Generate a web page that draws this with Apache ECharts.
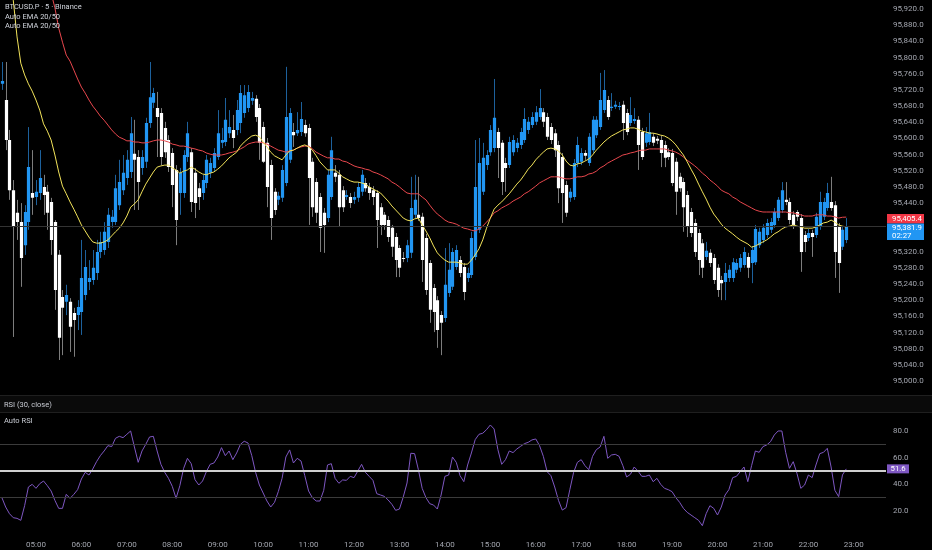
<!DOCTYPE html>
<html>
<head>
<meta charset="utf-8">
<script src="https://cdn.jsdelivr.net/npm/echarts@6/dist/echarts.min.js"></script>
<style>
html,body{margin:0;padding:0;background:#000;}
#c{width:932px;height:550px;}
</style>
</head>
<body>
<div id="c"></div>
<script>
// ---------- DATA ----------
const startMinute = 4 * 60 + 15;   // first bar 04:15, 5-minute bars
const slotCount = 234;             // bars + empty right margin slots
const hourTicks = ['05:00','06:00','07:00','08:00','09:00','10:00','11:00','12:00','13:00','14:00','15:00','16:00','17:00','18:00','19:00','20:00','21:00','22:00','23:00'];

const opens = [
95735,95695,95596,95472,95416,95393,95336,95393,95465,95455,
95465,95480,95468,95443,95393,95312,95208,95196,95196,95168,
95163,95171,95213,95245,95250,95267,95319,95324,95344,95393,
95393,95435,95472,95502,95517,95562,95554,95527,95542,95638,
95688,95675,95663,95626,95596,95564,95522,95465,95465,95554,
95566,95515,95477,95465,95490,95515,95527,95554,95589,95591,
95613,95621,95621,95638,95663,95675,95693,95698,95675,95628,
95589,95534,95468,95448,95453,95490,95547,95616,95613,95616,
95633,95626,95542,95492,95455,95416,95403,95455,95515,95510,
95472,95455,95455,95448,95453,95468,95490,95480,95472,95465,
95430,95411,95398,95379,95356,95329,95304,95304,95317,95411,
95411,95406,95354,95292,95230,95200,95163,95156,95218,95233,
95282,95299,95282,95255,95262,95307,95374,95468,95534,95566,
95576,95616,95589,95539,95534,95566,95576,95584,95596,95621,
95633,95641,95653,95665,95653,95628,95613,95584,95554,95485,
95453,95455,95539,95542,95564,95539,95571,95608,95628,95670,
95695,95675,95678,95678,95683,95663,95638,95643,95646,95616,
95589,95591,95604,95599,95596,95584,95566,95564,95542,95505,
95492,95460,95418,95391,95366,95341,95307,95317,95304,95280,
95250,95245,95255,95255,95275,95280,95287,95307,95292,95294,
95336,95349,95361,95374,95386,95403,95423,95448,95443,95411,
95418,95403,95361,95354,95366,95361,95381,95406,95428,95443,
95435,95381,95332,95349];

const closes = [
95742,95596,95472,95381,95393,95304,95418,95529,95453,95468,
95502,95460,95416,95349,95225,95107,95181,95213,95134,95151,
95183,95255,95282,95255,95280,95319,95344,95369,95411,95406,
95477,95492,95515,95547,95613,95547,95492,95554,95638,95702,
95712,95653,95554,95566,95529,95485,95398,95515,95559,95613,
95443,95440,95455,95497,95547,95539,95564,95613,95596,95646,
95628,95601,95670,95712,95707,95715,95700,95653,95589,95542,
95480,95403,95423,95458,95522,95653,95663,95608,95621,95648,
95613,95502,95430,95416,95379,95386,95510,95571,95505,95430,
95430,95460,95440,95455,95480,95510,95477,95465,95455,95398,
95386,95386,95356,95332,95299,95280,95303,95336,95428,95448,
95403,95299,95225,95176,95171,95126,95144,95238,95275,95319,
95324,95267,95220,95267,95354,95480,95539,95552,95559,95621,
95651,95576,95492,95527,95591,95596,95589,95616,95648,95641,
95653,95665,95675,95641,95604,95596,95571,95477,95465,95416,
95468,95539,95584,95564,95557,95604,95646,95646,95695,95720,
95653,95678,95683,95680,95638,95616,95658,95648,95584,95554,
95613,95616,95589,95594,95564,95552,95554,95490,95468,95477,
95430,95381,95366,95319,95299,95280,95322,95292,95250,95225,
95242,95267,95275,95294,95292,95304,95319,95280,95324,95376,
95369,95379,95391,95393,95418,95448,95472,95443,95398,95386,
95406,95319,95344,95366,95356,95406,95443,95443,95465,95428,
95319,95292,95374,95381.9];

const lows = [
95720,95571,95448,95109,95349,95233,95312,95374,95411,95435,
95448,95411,95374,95312,95176,95052,95064,95163,95072,95060,
95126,95114,95200,95225,95238,95250,95304,95312,95329,95379,
95386,95423,95460,95485,95502,95423,95423,95510,95527,95626,
95675,95554,95534,95552,95517,95430,95336,95411,95453,95542,
95418,95403,95423,95448,95477,95502,95517,95547,95576,95581,
95601,95576,95608,95613,95651,95665,95683,95641,95547,95539,
95430,95349,95411,95435,95443,95482,95539,95579,95606,95606,
95604,95386,95406,95391,95319,95317,95393,95448,95492,95381,
95418,95448,95428,95438,95443,95458,95468,95448,95435,95329,
95361,95374,95344,95307,95257,95257,95294,95294,95304,95403,
95396,95245,95213,95144,95121,95082,95064,95146,95208,95225,
95275,95257,95200,95245,95255,95299,95366,95460,95522,95557,
95566,95502,95460,95468,95527,95557,95566,95574,95589,95611,
95626,95633,95646,95628,95596,95586,95554,95440,95391,95406,
95443,95448,95529,95534,95547,95532,95564,95601,95621,95663,
95646,95668,95673,95670,95596,95608,95631,95636,95522,95547,
95579,95584,95581,95586,95529,95529,95547,95482,95411,95468,
95369,95356,95356,95307,95262,95255,95299,95282,95240,95208,
95200,95200,95245,95245,95267,95270,95280,95255,95242,95287,
95329,95341,95354,95366,95379,95396,95416,95435,95388,95376,
95396,95270,95319,95346,95307,95354,95374,95398,95421,95421,
95255,95218,95324,95341];

const highs = [
95789,95789,95621,95497,95448,95440,95435,95628,95571,95497,
95571,95510,95485,95453,95398,95324,95225,95238,95205,95181,
95200,95349,95324,95299,95324,95349,95369,95393,95428,95423,
95510,95547,95559,95571,95653,95646,95571,95571,95651,95789,
95725,95715,95675,95641,95608,95576,95534,95527,95571,95641,
95576,95527,95490,95510,95559,95552,95576,95670,95626,95700,
95670,95658,95695,95732,95732,95732,95715,95707,95685,95641,
95601,95547,95477,95468,95534,95777,95675,95638,95665,95690,
95646,95636,95552,95502,95465,95428,95522,95604,95534,95522,
95482,95472,95465,95468,95492,95522,95502,95490,95482,95472,
95440,95418,95408,95386,95366,95336,95319,95349,95505,95510,
95505,95416,95364,95299,95240,95210,95173,95329,95341,95329,
95336,95309,95292,95280,95369,95596,95601,95589,95571,95633,
95747,95626,95596,95552,95604,95608,95601,95626,95675,95653,
95665,95680,95722,95675,95663,95638,95623,95594,95564,95495,
95477,95549,95604,95576,95571,95613,95655,95655,95762,95769,
95705,95712,95693,95690,95693,95673,95702,95675,95655,95626,
95628,95663,95613,95606,95606,95594,95576,95574,95552,95515,
95502,95470,95428,95401,95376,95351,95344,95326,95314,95289,
95260,95292,95287,95304,95302,95314,95331,95317,95334,95386,
95379,95388,95401,95403,95428,95455,95492,95492,95453,95420,
95423,95413,95371,95376,95374,95416,95468,95453,95490,95505,
95445,95391,95383,95403];

const ema20 = [
96214,96115,96029,95942,95851,95786,95757,95735,95717,95695,
95670,95636,95618,95596,95559,95517,95482,95463,95443,95425,
95406,95386,95371,95356,95344,95341,95341,95344,95349,95359,
95369,95378,95391,95408,95430,95438,95448,95468,95487,95502,
95517,95529,95532,95534,95534,95527,95522,95514,95519,95522,
95529,95524,95517,95512,95510,95514,95517,95524,95532,95542,
95552,95559,95566,95581,95591,95599,95606,95608,95604,95591,
95579,95566,95557,95552,95547,95559,95569,95571,95576,95581,
95584,95579,95571,95557,95542,95532,95522,95522,95522,95514,
95505,95500,95495,95492,95492,95490,95487,95480,95475,95470,
95465,95455,95445,95433,95423,95413,95403,95398,95396,95401,
95403,95386,95371,95354,95334,95317,95307,95299,95294,95294,
95294,95292,95289,95289,95299,95312,95327,95349,95378,95403,
95425,95435,95443,95453,95463,95475,95487,95497,95510,95524,
95534,95547,95557,95566,95574,95576,95574,95569,95559,95544,
95534,95532,95537,95539,95544,95549,95559,95571,95581,95591,
95599,95606,95611,95616,95621,95623,95626,95626,95623,95618,
95616,95613,95613,95611,95608,95606,95601,95594,95584,95571,
95559,95542,95524,95507,95487,95468,95450,95430,95413,95401,
95388,95378,95371,95364,95356,95349,95344,95339,95331,95334,
95339,95344,95349,95356,95364,95369,95376,95381,95383,95386,
95383,95381,95378,95378,95378,95381,95386,95391,95393,95398,
95393,95386,95383,95381];

const ema50 = [
96462,96412,96363,96313,96264,96219,96177,96140,96106,96073,
96044,96014,95984,95960,95923,95873,95838,95806,95791,95769,
95747,95727,95712,95695,95680,95668,95655,95645,95633,95621,
95611,95603,95599,95594,95594,95591,95591,95589,95589,95591,
95594,95596,95596,95594,95591,95586,95584,95581,95581,95579,
95576,95574,95571,95569,95564,95561,95559,95559,95559,95561,
95564,95566,95569,95574,95579,95586,95589,95591,95591,95589,
95586,95581,95576,95571,95569,95566,95569,95571,95576,95579,
95581,95581,95574,95566,95561,95556,95552,95552,95549,95549,
95544,95542,95537,95532,95529,95527,95524,95522,95517,95514,
95510,95505,95500,95492,95487,95480,95472,95465,95463,95463,
95463,95455,95448,95435,95423,95413,95406,95398,95393,95391,
95388,95383,95378,95376,95373,95371,95376,95383,95393,95403,
95416,95421,95428,95433,95438,95445,95450,95455,95463,95468,
95475,95482,95490,95495,95500,95505,95505,95505,95502,95500,
95500,95502,95505,95505,95507,95512,95514,95519,95527,95532,
95539,95544,95549,95554,95559,95561,95564,95566,95569,95571,
95571,95574,95574,95574,95574,95574,95571,95569,95566,95561,
95554,95546,95539,95532,95524,95514,95507,95497,95490,95482,
95472,95467,95463,95455,95450,95443,95438,95433,95428,95423,
95420,95418,95418,95418,95418,95418,95418,95418,95416,95416,
95413,95411,95408,95408,95408,95411,95411,95411,95408,95408,
95406,95403,95405,95405.4];

const rsi = [
30,23,18,15,14.5,13,24,38,40,37,
40.5,42.5,39,35,28,22,22,32.5,29.5,32.5,
36,44,49,47,51.5,57,61.5,65,69,68.3,
74.5,76,75,77.5,80,68,56.5,65,70,75.5,
76,65,55,49,44.5,38.5,29.5,39,52,59.5,
55.5,43.5,39.5,42.5,49.5,55,56,60.5,67.5,61.5,
65,58.5,63.5,70,72.3,71,61.5,49,39.5,33.5,
27.5,23,26.5,34.5,44.5,60.5,65.8,56,59.5,57.5,
46.5,35,30,27.5,27.5,35.5,54.5,55.5,44.5,40.8,
43.3,43,46,45,50,55,49,46,43,33,
32,31,28.3,25,20.5,21.5,30.5,41,63.3,63,
51,37,30,25.5,24.5,21.5,32,46,47,60.5,
56.5,46.5,42,54.5,63.5,73.5,77.5,78.3,81,84.5,
81.5,66,55,58.5,65,63.8,66.5,68.5,70.5,71.5,
73.3,74,69,61,49.5,46.5,38,28,20.7,22.5,
36,49,56.5,58.5,54,51,61,66,68,76,
59.5,62,62.5,61,54,45.5,47.5,53,50,46,
46,47,42,44.5,40,37,36,34.5,30,26.5,
22,19,17,15,13,9,18,24,22,17,
23,32,36,45,46,49.5,53,42,54,65,
64,68.3,69.5,72,77,80,80,64,52,57,
48,37,39.5,47,45,54.5,63,64,67,53,
35.5,30.8,47,51.6];

const rsiLevels = { upper: 70, middle: 50, lower: 30 };
const countdown = '02:27';

// ---------- BUILD ----------
const categories = [];
for (let k = 0; k < slotCount; k++) {
  const m = startMinute + 5 * k;
  categories.push(String(Math.floor(m / 60) % 24).padStart(2, '0') + ':' + String(m % 60).padStart(2, '0'));
}
const candleData = opens.map((o, i) => [i, o, closes[i], lows[i], highs[i]]);
const last = closes.length - 1;

function fmtPrice(v) {
  const s = v.toFixed(1);
  const parts = s.split('.');
  return parts[0].replace(/\B(?=(\d{3})+(?!\d))/g, ',') + '.' + parts[1];
}

const FONT = 'Roboto, "Noto Sans", sans-serif';
const AXIS_COLOR = '#a3a6af';

function renderCandle(params, api) {
  const idx = api.value(0);
  const o = api.value(1), c = api.value(2), l = api.value(3), h = api.value(4);
  const pO = api.coord([idx, o]);
  const pC = api.coord([idx, c]);
  const pL = api.coord([idx, l]);
  const pH = api.coord([idx, h]);
  const band = api.size([1, 0])[0];
  const w = band * 0.85;
  const up = c > o;
  let top = Math.min(pO[1], pC[1]);
  let bot = Math.max(pO[1], pC[1]);
  if (bot - top < 1) bot = top + 1;
  const cx = Math.round(pO[0]) + 0.5;
  return {
    type: 'group',
    children: [
      { type: 'line', shape: { x1: cx, y1: pH[1], x2: cx, y2: pL[1] },
        style: { stroke: up ? '#1d619c' : '#7d7d7d', lineWidth: 1 } },
      { type: 'rect', shape: { x: cx - w / 2, y: top, width: w, height: bot - top },
        style: { fill: up ? '#2196f3' : '#ffffff' } }
    ]
  };
}

const chart = echarts.init(document.getElementById('c'), null, { renderer: 'canvas' });

const option = {
  backgroundColor: '#000000',
  animation: false,
  textStyle: { fontFamily: FONT },
  grid: [
    { left: 0, right: 46, top: 0, height: 397.2 },
    { left: 0, right: 46, top: 412.3, height: 125.4 }
  ],
  xAxis: [
    { type: 'category', gridIndex: 0, data: categories, boundaryGap: true, show: false },
    { type: 'category', gridIndex: 1, data: categories, boundaryGap: true,
      axisLine: { show: false }, axisTick: { show: false }, splitLine: { show: false },
      axisLabel: { interval: (i, v) => hourTicks.indexOf(v) >= 0, color: AXIS_COLOR, fontSize: 8, margin: 3, fontFamily: FONT } }
  ],
  yAxis: [
    { type: 'value', gridIndex: 0, position: 'right', min: 94960, max: 95942.3, interval: 40,
      axisLine: { show: false }, axisTick: { show: false }, splitLine: { show: false },
      axisLabel: { color: AXIS_COLOR, fontSize: 8, margin: 7, fontFamily: FONT,
        formatter: v => (v >= 95000 && Math.abs(v % 40) < 1e-6) ? fmtPrice(v) : '' } },
    { type: 'value', gridIndex: 1, position: 'right', min: 0, max: 94, interval: 20,
      axisLine: { show: false }, axisTick: { show: false }, splitLine: { show: false },
      axisLabel: { color: AXIS_COLOR, fontSize: 8, margin: 7, fontFamily: FONT,
        formatter: v => (v > 0 && v <= 80 && Math.abs(v % 20) < 1e-6) ? v.toFixed(1) : '' } }
  ],
  series: [
    { name: 'BTCUSD.P', type: 'custom', xAxisIndex: 0, yAxisIndex: 0, renderItem: renderCandle,
      data: candleData, encode: { x: 0, y: [1, 2, 3, 4] }, clip: true, z: 2 },
    { name: 'EMA 50', type: 'line', xAxisIndex: 0, yAxisIndex: 0, data: ema50, showSymbol: false,
      symbol: 'none', lineStyle: { color: '#e8474d', width: 1 }, clip: true, z: 3,
      markLine: { silent: true, symbol: 'none', label: { show: false },
        lineStyle: { color: '#333333', width: 1, type: 'solid' },
        data: [{ yAxis: closes[last] }] } },
    { name: 'EMA 20', type: 'line', xAxisIndex: 0, yAxisIndex: 0, data: ema20, showSymbol: false,
      symbol: 'none', lineStyle: { color: '#f2e35a', width: 1 }, clip: true, z: 4 },
    { name: 'RSI', type: 'line', xAxisIndex: 1, yAxisIndex: 1, data: rsi, showSymbol: false,
      symbol: 'none', lineStyle: { color: '#7e57c2', width: 1 }, z: 3,
      markLine: { silent: true, symbol: 'none', label: { show: false },
        data: [
          { yAxis: rsiLevels.upper, lineStyle: { color: '#3b3b3b', width: 1, type: 'solid' } },
          { yAxis: rsiLevels.lower, lineStyle: { color: '#3b3b3b', width: 1, type: 'solid' } },
          { yAxis: rsiLevels.middle, lineStyle: { color: '#cfcfcf', width: 2, type: 'solid' } }
        ] } }
  ]
};
chart.setOption(option);

// Labels on the price scale, positioned through the axes' own scales
const yRed = chart.convertToPixel({ yAxisIndex: 0 }, ema50[last]);
const yRsi = chart.convertToPixel({ yAxisIndex: 1 }, rsi[last]);
const boxX = 887, boxW = 37;
const redTop = yRed - 3;
const blueTop = redTop + 9.5;

chart.setOption({
  graphic: [
    { type: 'rect', left: 0, top: 395, shape: { x: 0, y: 0, width: 932, height: 17 }, style: { fill: '#0a0a0a' }, z: 0, silent: true },
    { type: 'line', shape: { x1: 0, y1: 395.5, x2: 932, y2: 395.5 }, style: { stroke: '#1f1f1f', lineWidth: 1 }, z: 1, silent: true },
    { type: 'line', shape: { x1: 0, y1: 412.5, x2: 932, y2: 412.5 }, style: { stroke: '#1f1f1f', lineWidth: 1 }, z: 1, silent: true },
    { type: 'text', x: 5, y: 7.5, style: { text: 'BTCUSD.P · 5 · Binance', fill: '#d1d4dc', fontSize: 7.5, fontFamily: FONT, verticalAlign: 'middle' }, z: 10 },
    { type: 'text', x: 5, y: 17, style: { text: 'Auto EMA 20/50', fill: '#d1d4dc', fontSize: 7.5, fontFamily: FONT, verticalAlign: 'middle' }, z: 10 },
    { type: 'text', x: 5, y: 26, style: { text: 'Auto EMA 20/50', fill: '#d1d4dc', fontSize: 7.5, fontFamily: FONT, verticalAlign: 'middle' }, z: 10 },
    { type: 'text', x: 4, y: 405, style: { text: 'RSI (30, close)', fill: '#c8cbd3', fontSize: 7.5, fontFamily: FONT, verticalAlign: 'middle' }, z: 10 },
    { type: 'text', x: 4, y: 421.5, style: { text: 'Auto RSI', fill: '#c8cbd3', fontSize: 7.5, fontFamily: FONT, verticalAlign: 'middle' }, z: 10 },
    { type: 'rect', shape: { x: boxX, y: redTop, width: boxW, height: 9.5 }, style: { fill: '#f23645' }, z: 20 },
    { type: 'text', x: 892, y: redTop + 4.9, style: { text: fmtPrice(ema50[last]), fill: '#ffffff', fontSize: 7.8, fontFamily: FONT, verticalAlign: 'middle' }, z: 21 },
    { type: 'rect', shape: { x: boxX, y: blueTop, width: boxW, height: 16.5 }, style: { fill: '#2196f3' }, z: 20 },
    { type: 'text', x: 892, y: blueTop + 4.6, style: { text: fmtPrice(closes[last]), fill: '#ffffff', fontSize: 7.8, fontFamily: FONT, verticalAlign: 'middle' }, z: 21 },
    { type: 'text', x: 892, y: blueTop + 12, style: { text: countdown, fill: '#ffffff', fontSize: 7.8, fontFamily: FONT, verticalAlign: 'middle' }, z: 21 },
    { type: 'rect', shape: { x: boxX, y: yRsi - 4.5, width: 22, height: 9 }, style: { fill: '#7e57c2' }, z: 20 },
    { type: 'text', x: 890.5, y: yRsi, style: { text: rsi[last].toFixed(1), fill: '#ffffff', fontSize: 7.8, fontFamily: FONT, verticalAlign: 'middle' }, z: 21 }
  ]
});
</script>
</body>
</html>
